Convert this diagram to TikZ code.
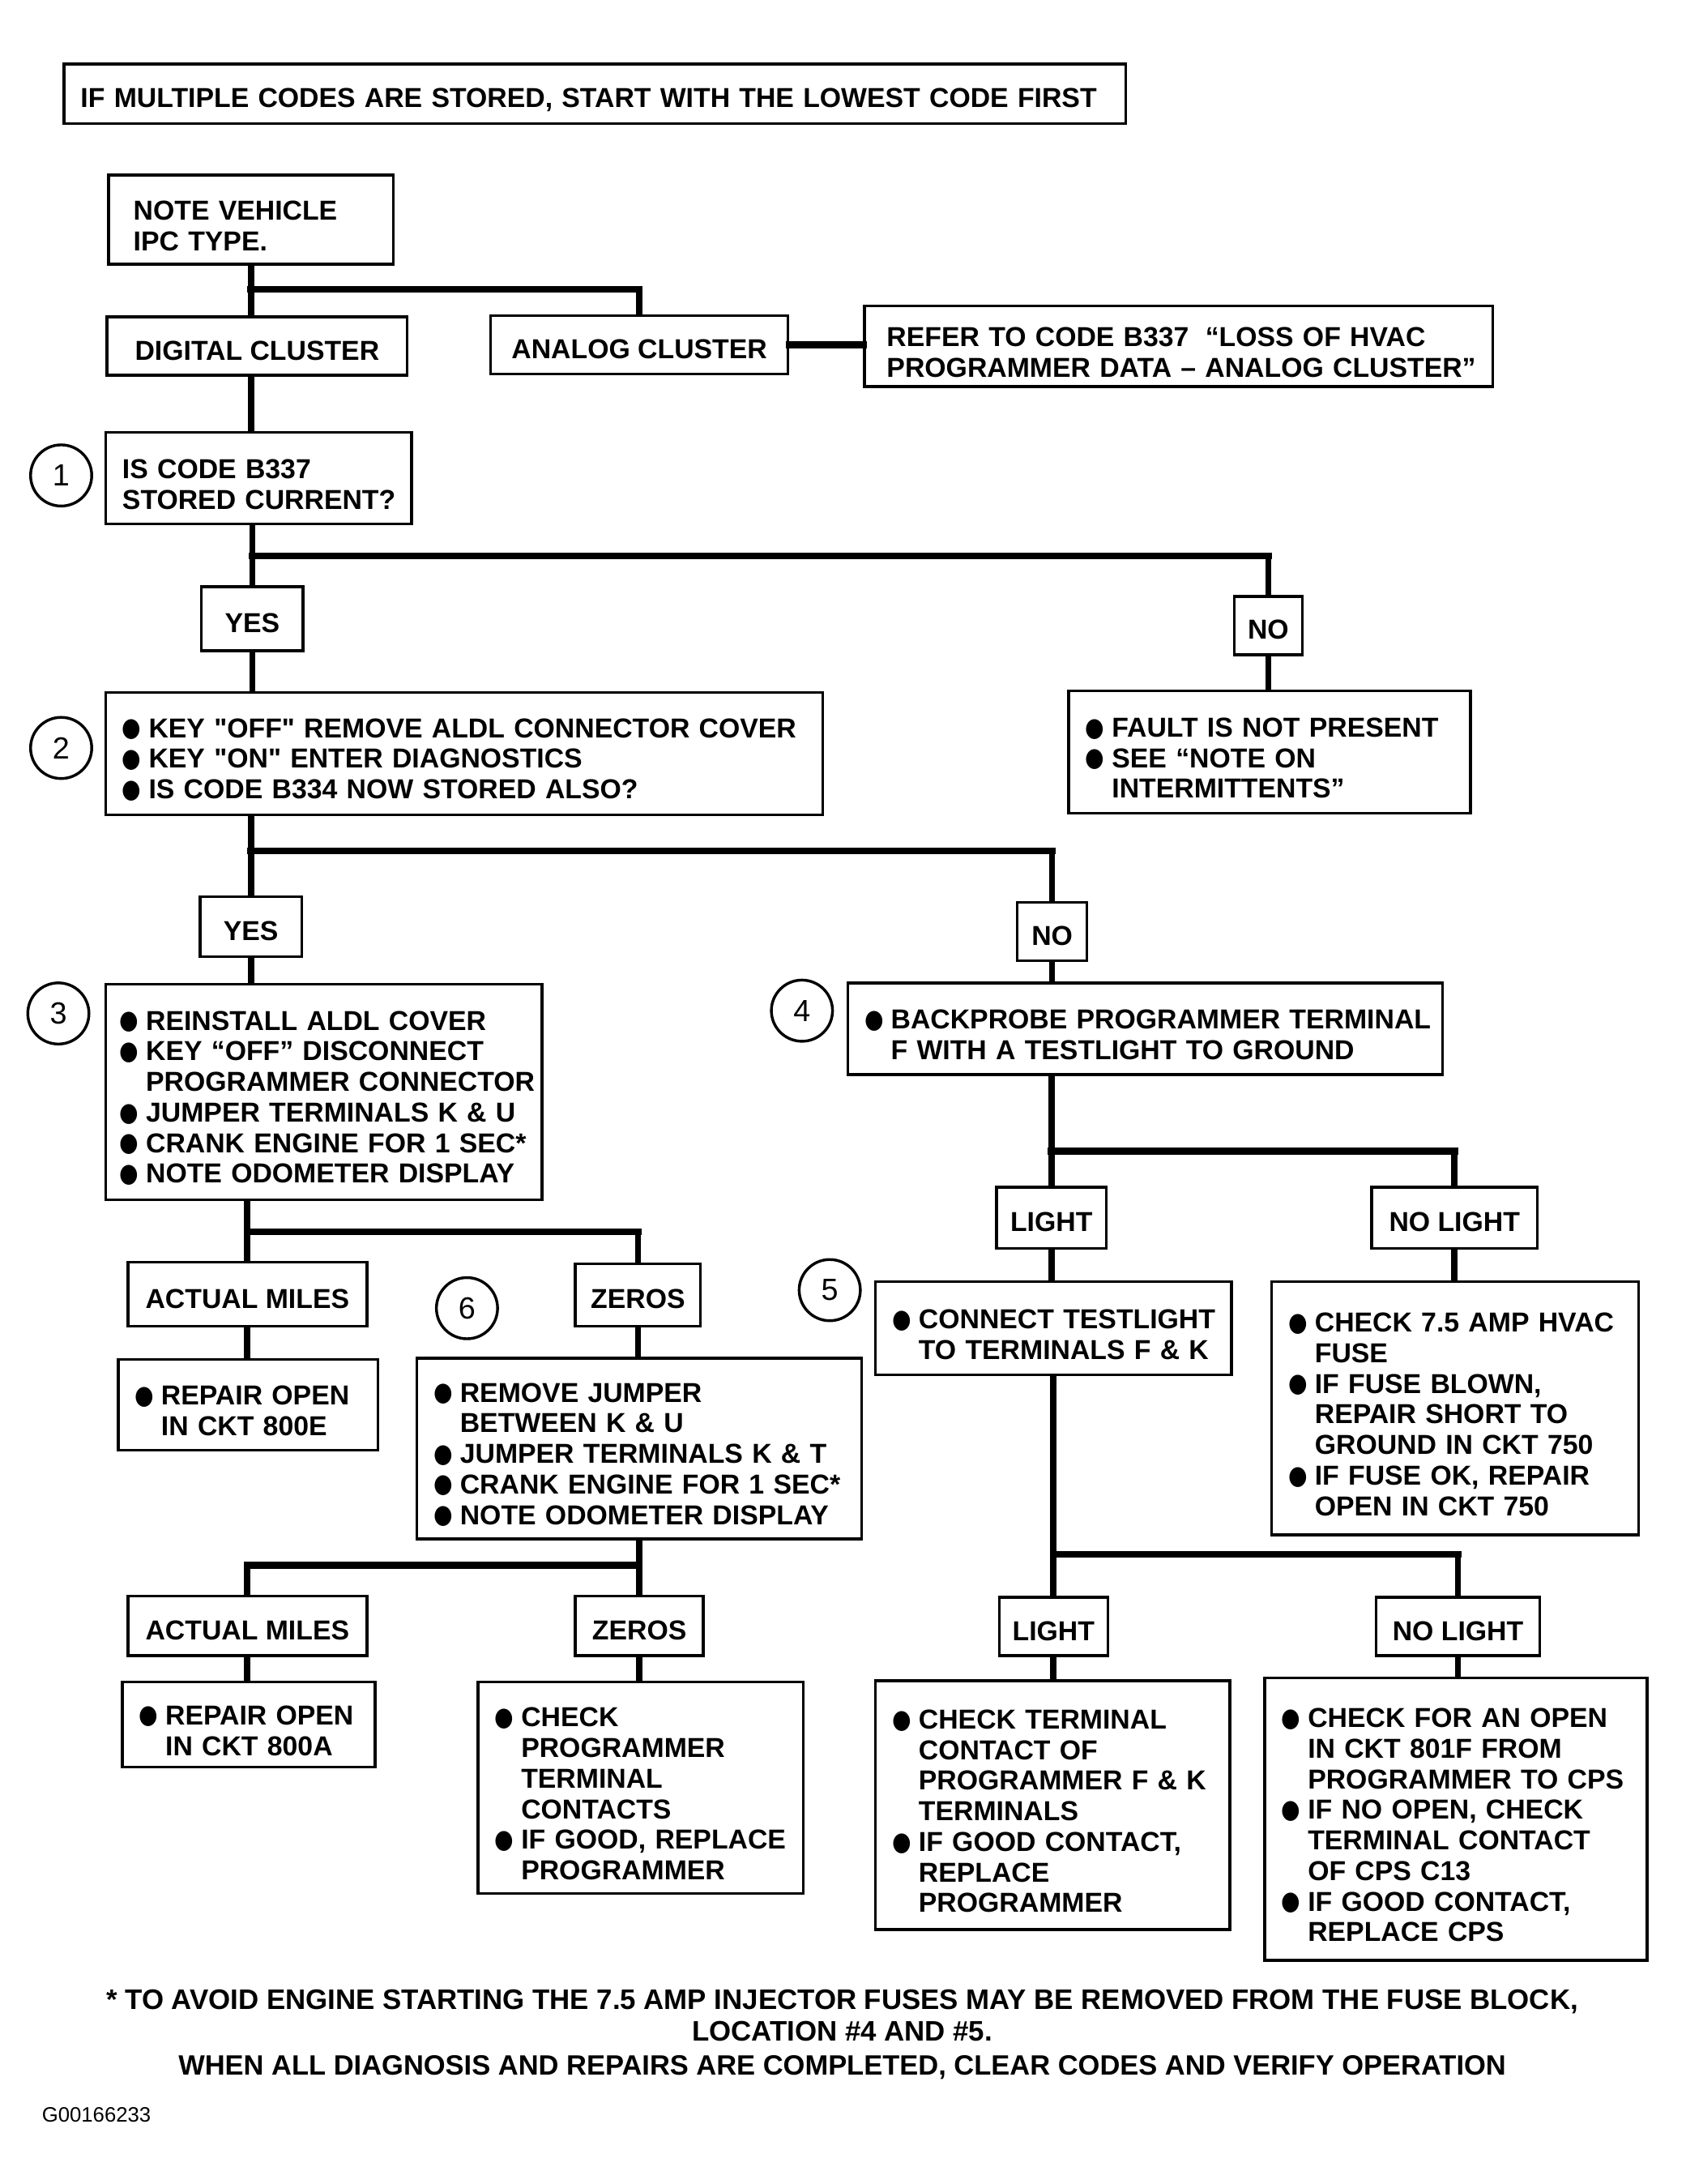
\documentclass[tikz,border=0pt]{standalone}
\usepackage{fontspec}
\usepackage{graphicx}
\setmainfont{Liberation Sans}[Ligatures=TeXOff]
\newfontfamily\symbfont{DejaVu Sans}

\newcommand\chartfont{\fontsize{19.7}{22}\selectfont\bfseries}
% bullet line, continuation line, plain line
\newcommand\bl[2][12pt]{\mbox{\hspace{#1}\makebox[19pt][l]{\raisebox{0.8pt}{\symbfont\scalebox{0.8}[0.95]{●}}}#2}}
\newcommand\cl[2][31pt]{\mbox{\hspace{#1}#2}}
\newcommand\pl[2][12pt]{\mbox{\hspace{#1}#2}}

\begin{document}
\begin{tikzpicture}[x=1pt,y=1pt,yscale=-1,
  textbox/.style={draw, line width=2pt, anchor=north west, inner sep=0pt, align=left, text width=#1, minimum width=#1, font=\chartfont, execute at begin node={\rule{0pt}{22.5pt}}},
  answer/.style={draw, line width=2pt, anchor=north west, inner sep=0pt, align=center, font=\chartfont, execute at begin node={\rule{0pt}{20pt}}},
  stepno/.style={draw, circle, line width=2pt, minimum size=44pt, inner sep=0pt, font=\fontsize{22}{22}\selectfont},
  wire/.style={line width=4.5pt},
  bar/.style={line width=5pt, line cap=rect}]
\useasboundingbox (0,0) rectangle (1213,1571);

% banner
\node[textbox=764pt, minimum height=43pt] (banner) at (45,45) {\pl{IF MULTIPLE CODES ARE STORED, START WITH THE LOWEST CODE FIRST}};

% cluster type
\node[textbox=205pt, minimum height=64pt] (note) at (77,125) {\pl[18pt]{NOTE VEHICLE}\\\pl[18pt]{IPC TYPE.}};
\node[answer, minimum width=216pt, minimum height=42pt] (dig) at (76,227) {DIGITAL CLUSTER};
\node[answer, minimum width=214pt, minimum height=42pt] (ana) at (352,226) {ANALOG CLUSTER};
\node[textbox=452pt, minimum height=58pt] (refer) at (621,219) {\pl[16pt]{REFER TO CODE B337\hspace{0.6em}“LOSS OF HVAC}\\\pl[16pt]{PROGRAMMER DATA – ANALOG CLUSTER”}};

% step 1
\node[stepno] (c1) at (44,342) {1};
\node[textbox=220pt, minimum height=66pt] (q1) at (75,310) {\pl{IS CODE B337}\\\pl{STORED CURRENT?}};
\node[answer, minimum width=73pt, minimum height=46pt] (yes1) at (144,421) {YES};
\node[answer, minimum width=49pt, minimum height=42pt] (no1) at (887,428) {NO};

% step 2
\node[stepno] (c2) at (44,538) {2};
\node[textbox=516pt, minimum height=88pt] (q2) at (75,497) {\bl{KEY "OFF" REMOVE ALDL CONNECTOR COVER}\\\bl{KEY "ON" ENTER DIAGNOSTICS}\\\bl{IS CODE B334 NOW STORED ALSO?}};
\node[textbox=289pt, minimum height=88pt] (fault) at (768,496) {\bl{FAULT IS NOT PRESENT}\\\bl{SEE “NOTE ON}\\\cl{INTERMITTENTS”}};
\node[answer, minimum width=73pt, minimum height=43pt] (yes2) at (143,644) {YES};
\node[answer, minimum width=50pt, minimum height=42pt] (no2) at (731,648) {NO};

% step 3
\node[stepno] (c3) at (42,729) {3};
\node[textbox=314pt, minimum height=155pt] (q3) at (75,707) {\bl[10pt]{REINSTALL ALDL COVER}\\\bl[10pt]{KEY “OFF” DISCONNECT}\\\cl[29pt]{PROGRAMMER CONNECTOR}\\\bl[10pt]{JUMPER TERMINALS K \& U}\\\bl[10pt]{CRANK ENGINE FOR 1 SEC*}\\\bl[10pt]{NOTE ODOMETER DISPLAY}};

% step 4
\node[stepno] (c4) at (577,727) {4};
\node[textbox=428pt, minimum height=66pt] (q4) at (609,706) {\bl{BACKPROBE PROGRAMMER TERMINAL}\\\cl{F WITH A TESTLIGHT TO GROUND}};
\node[answer, minimum width=79pt, minimum height=44pt] (light1) at (716,853) {LIGHT};
\node[answer, minimum width=119pt, minimum height=44pt] (nolight1) at (986,853) {NO LIGHT};

% odometer, first check
\node[answer, minimum width=172pt, minimum height=46pt] (miles1) at (91,907) {ACTUAL MILES};
\node[answer, minimum width=90pt, minimum height=45pt] (zeros1) at (413,908) {ZEROS};
\node[textbox=187pt, minimum height=65pt] (open800e) at (84,977) {\bl{REPAIR OPEN}\\\cl{IN CKT 800E}};

% step 6
\node[stepno] (c6) at (336,941) {6};
\node[textbox=320pt, minimum height=130pt] (q6) at (299,976) {\bl{REMOVE JUMPER}\\\cl{BETWEEN K \& U}\\\bl{JUMPER TERMINALS K \& T}\\\bl{CRANK ENGINE FOR 1 SEC*}\\\bl{NOTE ODOMETER DISPLAY}};

% step 5
\node[stepno] (c5) at (597,928) {5};
\node[textbox=256pt, minimum height=67pt] (q5) at (629,921) {\bl{CONNECT TESTLIGHT}\\\cl{TO TERMINALS F \& K}};
\node[textbox=264pt, minimum height=182pt] (fuse) at (914,921) {\bl{CHECK 7.5 AMP HVAC}\\\cl{FUSE}\\\bl{IF FUSE BLOWN,}\\\cl{REPAIR SHORT TO}\\\cl{GROUND IN CKT 750}\\\bl{IF FUSE OK, REPAIR}\\\cl{OPEN IN CKT 750}};

% second answers
\node[answer, minimum width=172pt, minimum height=43pt] (miles2) at (91,1147) {ACTUAL MILES};
\node[answer, minimum width=92pt, minimum height=43pt] (zeros2) at (413,1147) {ZEROS};
\node[answer, minimum width=78pt, minimum height=42pt] (light2) at (718,1148) {LIGHT};
\node[answer, minimum width=118pt, minimum height=42pt] (nolight2) at (989,1148) {NO LIGHT};

% repairs
\node[textbox=182pt, minimum height=61pt] (open800a) at (87,1209) {\bl{REPAIR OPEN}\\\cl{IN CKT 800A}};
\node[textbox=234pt, minimum height=152pt] (replprog) at (343,1209) {\bl{CHECK}\\\cl{PROGRAMMER}\\\cl{TERMINAL}\\\cl{CONTACTS}\\\bl{IF GOOD, REPLACE}\\\cl{PROGRAMMER}};
\node[textbox=255pt, minimum height=179pt] (termfk) at (629,1208) {\bl{CHECK TERMINAL}\\\cl{CONTACT OF}\\\cl{PROGRAMMER F \& K}\\\cl{TERMINALS}\\\bl{IF GOOD CONTACT,}\\\cl{REPLACE}\\\cl{PROGRAMMER}};
\node[textbox=275pt, minimum height=203pt] (opencps) at (909,1206) {\bl{CHECK FOR AN OPEN}\\\cl{IN CKT 801F FROM}\\\cl{PROGRAMMER TO CPS}\\\bl{IF NO OPEN, CHECK}\\\cl{TERMINAL CONTACT}\\\cl{OF CPS C13}\\\bl{IF GOOD CONTACT,}\\\cl{REPLACE CPS}};

% footer
\node[font=\fontsize{20.3}{22}\selectfont\bfseries] (fnote) at (606,1440) {* TO AVOID ENGINE STARTING THE 7.5 AMP INJECTOR FUSES MAY BE REMOVED FROM THE FUSE BLOCK,};
\node[font=\fontsize{20.3}{22}\selectfont\bfseries] (fnote2) at (606,1461) {LOCATION \#4 AND \#5.};
\node[font=\fontsize{20.1}{22}\selectfont\bfseries] (closing) at (606,1487) {WHEN ALL DIAGNOSIS AND REPAIRS ARE COMPLETED, CLEAR CODES AND VERIFY OPERATION};
\node[anchor=west, inner sep=0pt, font=\fontsize{15}{15}\selectfont] (figid) at (30,1521) {G00166233};

% connectors
\coordinate (fork0) at (180,208);
\draw[wire] (note.south) -- (note.south |- dig.north);
\draw[bar] (note.south |- fork0) -- (fork0 -| ana.north);
\draw[wire] (fork0 -| ana.north) -- (ana.north);
\draw[bar] (ana.east) -- (refer.west |- ana.east);
\draw[wire] (dig.south -| note.south) -- (q1.north -| note.south);

\coordinate (fork1) at (180,400);
\draw[wire] (q1.south -| yes1.north) -- (yes1.north);
\draw[bar] (fork1 -| yes1.north) -- (fork1 -| no1.north);
\draw[wire] (fork1 -| no1.north) -- (no1.north);
\draw[wire] (yes1.south) -- (q2.north -| yes1.south);
\draw[wire] (no1.south) -- (fault.north -| no1.south);

\coordinate (fork2) at (180,612);
\draw[wire] (q2.south -| yes2.north) -- (yes2.north);
\draw[bar] (fork2 -| yes2.north) -- (fork2 -| no2.north);
\draw[wire] (fork2 -| no2.north) -- (no2.north);
\draw[wire] (yes2.south) -- (q3.north -| yes2.south);
\draw[wire] (no2.south) -- (q4.north -| no2.south);

\coordinate (fork3) at (180,886);
\draw[wire] (q3.south -| miles1.north) -- (miles1.north);
\draw[bar] (fork3 -| miles1.north) -- (fork3 -| zeros1.north);
\draw[wire] (fork3 -| zeros1.north) -- (zeros1.north);
\draw[wire] (miles1.south) -- (open800e.north -| miles1.south);
\draw[wire] (zeros1.south) -- (q6.north -| zeros1.south);

\coordinate (fork4) at (757,828);
\draw[wire] (q4.south -| light1.north) -- (light1.north);
\draw[bar] (fork4 -| light1.north) -- (fork4 -| nolight1.north);
\draw[wire] (fork4 -| nolight1.north) -- (nolight1.north);
\draw[wire] (light1.south) -- (q5.north -| light1.south);
\draw[wire] (nolight1.south) -- (fuse.north -| nolight1.south);

\coordinate (fork6) at (180,1126);
\draw[wire] (q6.south -| zeros2.north) -- (zeros2.north);
\draw[bar] (fork6 -| miles2.north) -- (fork6 -| zeros2.north);
\draw[wire] (fork6 -| miles2.north) -- (miles2.north);
\draw[wire] (miles2.south) -- (open800a.north -| miles2.south);
\draw[wire] (zeros2.south) -- (replprog.north -| zeros2.south);

\coordinate (fork5) at (757,1118);
\draw[wire] (q5.south -| light2.north) -- (light2.north);
\draw[bar] (fork5 -| light2.north) -- (fork5 -| nolight2.north);
\draw[wire] (fork5 -| nolight2.north) -- (nolight2.north);
\draw[wire] (light2.south) -- (termfk.north -| light2.south);
\draw[wire] (nolight2.south) -- (opencps.north -| nolight2.south);

\end{tikzpicture}
\end{document}
